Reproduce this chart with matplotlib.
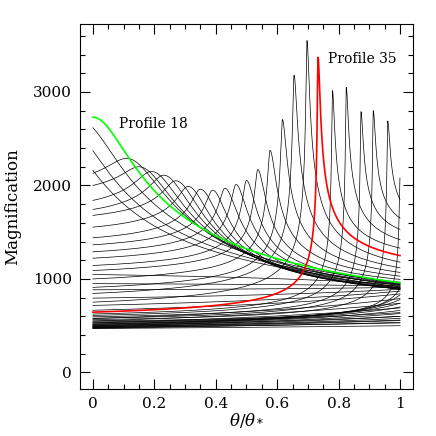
import numpy as np
import matplotlib
matplotlib.use('Agg')
import matplotlib.pyplot as plt
from matplotlib.ticker import MultipleLocator

plt.rcParams['font.family'] = 'DejaVu Serif'
plt.rcParams['mathtext.fontset'] = 'dejavuserif'

# magnification profiles:
# peak position (theta/theta*), peak magnification, magnification at theta=0 and theta=1,
# width of the peak on its left / right side
profile = list(range(1, 53))
peak_pos = [2.6, 2.4, 2.2, 2.0, 1.9, 1.8, 1.7, 1.6, 1.5, 1.45, 1.4, 1.35, 1.3, 1.25,
            -0.12, -0.08, -0.04, 0.0,
            0.11, 0.15, 0.19, 0.23, 0.27, 0.31, 0.35, 0.39, 0.43, 0.466, 0.50, 0.537,
            0.577, 0.617, 0.655, 0.697,
            0.733, 0.78, 0.825, 0.873, 0.913, 0.96, 1.0,
            1.04, 1.08, 1.13, 1.2, 1.3, 1.45, 1.65, 1.9, 2.2, 2.6, 3.0]
peak_mag = [0] * 14 + [2560, 2600, 2690, 2730,
            2290, 2200, 2150, 2110, 2050, 1990, 1960, 1950, 1970, 2010, 2055, 2170,
            2375, 2705, 3180, 3550,
            3370, 3015, 3050, 2790, 2800, 2690, 2080] + [0] * 11
mag_start = [470, 480, 490, 500, 515, 530, 550, 575, 665, 717, 795, 884, 950, 1048,
             0, 0, 0, 2730,
             2130, 2000, 1840, 1743, 1680, 1554, 1440, 1365, 1290, 1222, 1144, 1090,
             1000, 910, 845, 752,
             645, 625, 610, 595, 580, 565, 550,
             540, 530, 520, 512, 505, 498, 492, 486, 480, 476, 472]
mag_end = [500, 530, 560, 600, 640, 690, 740, 790, 840, 870, 890, 910, 925, 940,
           945, 950, 955, 960,
           930, 915, 905, 895, 890, 890, 895, 905, 920, 940, 965, 995,
           1030, 1070, 1120, 1180,
           1250, 1330, 1420, 1530, 1650, 1850, 2080,
           900, 830, 780, 740, 700, 663, 630, 600, 578, 555, 535]
width_left = [0.3] * 14 + [0.1] * 4 + [
    0.06, 0.05, 0.045, 0.04, 0.035, 0.03, 0.025, 0.02, 0.017, 0.014, 0.011, 0.009,
    0.007, 0.005, 0.004, 0.003] + [0.002] * 7 + [
    0.002, 0.004, 0.01, 0.03, 0.06, 0.1, 0.15, 0.2, 0.3, 0.4, 0.5]
width_right = [0.115] * 18 + [
    0.11, 0.10, 0.09, 0.08, 0.07, 0.06, 0.05, 0.04, 0.035, 0.03, 0.025, 0.02,
    0.016, 0.012, 0.009, 0.007] + [0.006] * 7 + [0.1] * 11


def shape(d, w):
    return (1 + (d / w) ** 2) ** -0.25


def curve(tp, ap, a0, a1, wl, wr):
    th = np.linspace(0, 1, 1201)
    if 0 <= tp <= 1:
        near = np.geomspace(1e-5, 0.05, 60)
        th = np.concatenate([th, tp - near, tp + near, [tp]])
        th = np.unique(th[(th >= 0) & (th <= 1)])
    y = np.empty_like(th)
    if tp > 1:
        f0, f1 = shape(tp, wl), shape(tp - 1, wl)
        amp = (a1 - a0) / (f1 - f0)
        return th, a0 - amp * f0 + amp * shape(tp - th, wl)
    left = th < tp
    if left.any():
        f0 = shape(tp, wl)
        c = (a0 - ap * f0) / (1 - f0)
        y[left] = c + (ap - c) * shape(tp - th[left], wl)
    right = ~left
    if tp < 1:
        f1 = shape(1 - tp, wr)
        c = (a1 - ap * f1) / (1 - f1)
        y[right] = c + (ap - c) * shape(th[right] - tp, wr)
    else:
        y[right] = ap
    return th, y


fig = plt.figure(figsize=(4.36, 4.36), dpi=100)
ax = fig.add_axes([0.1835, 0.108, 0.7635, 0.837])

for i, p in enumerate(profile):
    if p in (18, 35):
        continue
    th, y = curve(peak_pos[i], peak_mag[i], mag_start[i], mag_end[i],
                  width_left[i], width_right[i])
    ax.plot(th, y, color='black', lw=0.5)

for p, col in [(18, '#00ff00'), (35, 'red')]:
    i = profile.index(p)
    th, y = curve(peak_pos[i], peak_mag[i], mag_start[i], mag_end[i],
                  width_left[i], width_right[i])
    ax.plot(th, y, color=col, lw=1.2)

ax.text(0.085, 2657, 'Profile 18', fontsize=10, va='center', ha='left')
ax.text(0.765, 3350, 'Profile 35', fontsize=10, va='center', ha='left')

ax.set_xlim(-0.042, 1.042)
ax.set_ylim(-176, 3727)
ax.xaxis.set_major_locator(MultipleLocator(0.2))
ax.xaxis.set_minor_locator(MultipleLocator(0.05))
ax.yaxis.set_major_locator(MultipleLocator(1000))
ax.yaxis.set_minor_locator(MultipleLocator(200))
ax.set_xticks([0, 0.2, 0.4, 0.6, 0.8, 1.0])
ax.set_xticklabels(['0', '0.2', '0.4', '0.6', '0.8', '1'])
ax.tick_params(which='both', direction='in', top=True, right=True, labelsize=11, width=0.8)
ax.tick_params(which='major', length=7, pad=6)
ax.tick_params(which='minor', length=3.5)
for s in ax.spines.values():
    s.set_linewidth(0.8)
ax.set_xlabel(r'$\theta/\theta_*$', fontsize=12, labelpad=0)
ax.set_ylabel('Magnification', fontsize=12, labelpad=8)

fig.savefig('out.png', dpi=100)
